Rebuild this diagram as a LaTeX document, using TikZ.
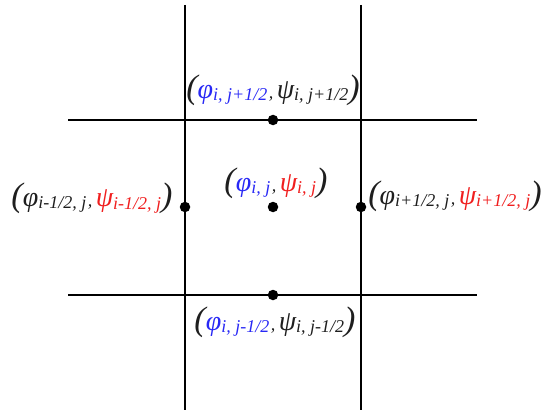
\documentclass[tikz,border=0pt]{standalone}
\usepackage{fontspec}
\setmainfont{Liberation Serif}
\definecolor{myblue}{RGB}{40,40,245}
\definecolor{myred}{RGB}{240,30,30}
\definecolor{mygray}{RGB}{30,30,30}
\newcommand\sbs[1]{\raisebox{-0.45ex}{\fontsize{18}{18}\selectfont #1}}
\newcommand\lpar{{\fontsize{34}{34}\selectfont (}}
\newcommand\rpar{{\fontsize{34}{34}\selectfont )}}
\newcommand\phiv{{\fontsize{28}{28}\selectfont φ}}
\newcommand\psiv{{\fontsize{28}{28}\selectfont ψ}}
\newcommand\cma{\,{\fontsize{18}{18}\selectfont ,}\,\,}
\begin{document}
\begin{tikzpicture}[x=1pt,y=-1pt,
  gridline/.style={line width=1.4pt,black},
  dotnode/.style={circle,fill=black,inner sep=0pt,minimum size=10.5pt},
  lab/.style={inner sep=0pt,font=\itshape,text=mygray}]
\useasboundingbox (0,0) rectangle (544,412);
\coordinate (v1t) at (185,5); \coordinate (v1b) at (185,410);
\coordinate (v2t) at (361,5); \coordinate (v2b) at (361,410);
\coordinate (h1l) at (68,120); \coordinate (h1r) at (477,120);
\coordinate (h2l) at (68,295); \coordinate (h2r) at (477,295);
\draw[gridline] (v1t) -- (v1b);
\draw[gridline] (v2t) -- (v2b);
\draw[gridline] (h1l) -- (h1r);
\draw[gridline] (h2l) -- (h2r);
\node[dotnode] (dt) at (273,120) {};
\node[dotnode] (dl) at (185,207) {};
\node[dotnode] (dc) at (273,207) {};
\node[dotnode] (dr) at (361,207) {};
\node[dotnode] (db) at (273,295) {};
\node[lab] (lt) at (273,90) {\lpar\textcolor{myblue}{\phiv\sbs{i, j+1/2}}\cma\psiv\sbs{i, j+1/2}\rpar};
\node[lab] (lc) at (276,183) {\lpar\textcolor{myblue}{\phiv\sbs{i, j}}\cma\textcolor{myred}{\psiv\sbs{i, j}}\rpar};
\node[lab] (ll) at (92,198) {\lpar\phiv\sbs{i-1/2, j}\cma\textcolor{myred}{\psiv\raisebox{-0.35ex}{\sbs{i-1/2, j}}}\rpar};
\node[lab] (lr) at (455,196) {\lpar\phiv\sbs{i+1/2, j}\cma\textcolor{myred}{\psiv\sbs{i+1/2, j}}\rpar};
\node[lab] (lb) at (275,322) {\lpar\textcolor{myblue}{\phiv\sbs{i, j-1/2}}\cma\psiv\sbs{i, j-1/2}\rpar};
\end{tikzpicture}
\end{document}
